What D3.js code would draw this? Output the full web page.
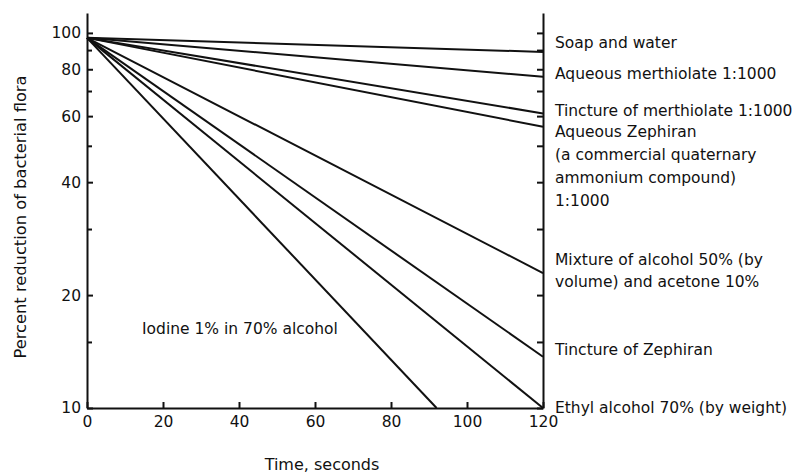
<!DOCTYPE html>
<html>
<head>
<meta charset="utf-8">
<script src="https://cdn.jsdelivr.net/npm/d3@7"></script>
<style>
  body { margin: 0; background: #fff; }
  svg { font-family: "DejaVu Sans", sans-serif; }
  .axis path, .axis line { stroke: #111; stroke-width: 2; }
  .axis text { font-size: 15.5px; fill: #111; font-family: "DejaVu Sans", sans-serif; }
</style>
</head>
<body>
<div id="chart"></div>
<script>
// data
const seriesNames = [
    "Soap and water",
    "Aqueous merthiolate 1:1000",
    "Tincture of merthiolate 1:1000",
    "Aqueous Zephiran",
    "Mixture of alcohol 50% (by volume) and acetone 10%",
    "Tincture of Zephiran",
    "Ethyl alcohol 70% (by weight)",
    "Iodine 1% in 70% alcohol"
];
const startTime = 0;
const startValue = 97;
const endTime = [120, 120, 120, 120, 120, 120, 120, 92];
const endValue = [89, 76.4, 61, 56.2, 22.9, 13.7, 10, 10];

// label text, split into lines as printed
const labelLines = [
    ["Soap and water"],
    ["Aqueous merthiolate  1:1000"],
    ["Tincture of merthiolate  1:1000"],
    ["Aqueous Zephiran", "(a commercial quaternary", "ammonium compound)", "1:1000"],
    ["Mixture of alcohol 50% (by", "volume) and acetone 10%"],
    ["Tincture of Zephiran"],
    ["Ethyl alcohol 70% (by weight)"],
    ["Iodine 1% in 70% alcohol"]
];

const xTicks = [0, 20, 40, 60, 80, 100, 120];
const yTicks = [10, 20, 40, 60, 80, 100];
const yMinorTicks = [15, 30, 50, 70, 90];

const width = 803, height = 473;

const svg = d3.select("#chart").append("svg")
    .attr("width", width)
    .attr("height", height);

const x = d3.scaleLinear().domain([0, 120]).range([87, 543]);
const y = d3.scaleLog().domain([10, 113]).range([408, 13]);

// left axis
svg.append("g")
    .attr("class", "axis")
    .attr("transform", "translate(" + x(0) + ",0)")
    .call(d3.axisLeft(y).tickValues(yTicks).tickFormat(d3.format("d"))
        .tickSizeInner(-6).tickSizeOuter(0).tickPadding(6));

svg.append("g")
    .attr("class", "axis")
    .attr("transform", "translate(" + x(0) + ",0)")
    .call(d3.axisLeft(y).tickValues(yMinorTicks).tickFormat("")
        .tickSizeInner(-5).tickSizeOuter(0))
    .select(".domain").remove();

// right axis (no labels)
svg.append("g")
    .attr("class", "axis")
    .attr("transform", "translate(" + x(120) + ",0)")
    .call(d3.axisLeft(y).tickValues(yTicks.concat(yMinorTicks)).tickFormat("")
        .tickSizeInner(6).tickSizeOuter(0));

// bottom axis
svg.append("g")
    .attr("class", "axis")
    .attr("transform", "translate(0," + y(10) + ")")
    .call(d3.axisBottom(x).tickValues(xTicks).tickFormat(d3.format("d"))
        .tickSizeInner(-6).tickSizeOuter(0).tickPadding(8));

svg.selectAll(".axis .domain").attr("fill", "none");

// lines
const rows = seriesNames.map((name, i) => ({
    name: name,
    pts: [[startTime, startValue], [endTime[i], endValue[i]]],
    lines: labelLines[i]
}));

const line = d3.line().x(d => x(d[0])).y(d => y(d[1]));

svg.append("g").selectAll("path")
    .data(rows)
    .enter().append("path")
    .attr("d", d => line(d.pts))
    .attr("fill", "none")
    .attr("stroke", "#111")
    .attr("stroke-width", 2);

// right labels, nudged from the line end like the print
const labelShift = [-9, -3, -3, 5, -13, -7, 0];
const lineGap = 23;

const labels = svg.append("g").attr("font-size", 15.5).attr("fill", "#111");

rows.slice(0, 7).forEach((r, i) => {
    const y0 = y(r.pts[1][1]) + labelShift[i];
    const gap = i == 4 ? 22 : lineGap;
    r.lines.forEach((t, j) => {
        labels.append("text")
            .attr("x", x(120) + 12)
            .attr("y", y0 + j * gap)
            .attr("dy", "0.35em")
            .text(t);
    });
});

// iodine label sits inside the plot
labels.append("text")
    .attr("x", x(0) + 55)
    .attr("y", y(16.3))
    .attr("dy", "0.35em")
    .text(rows[7].lines[0]);

// axis titles
svg.append("text")
    .attr("x", (x(0) + x(120)) / 2 + 7)
    .attr("y", 464)
    .attr("dy", "0.35em")
    .attr("text-anchor", "middle")
    .attr("font-size", 16)
    .attr("fill", "#111")
    .text("Time, seconds");

svg.append("text")
    .attr("transform", "translate(20," + 217 + ") rotate(-90)")
    .attr("dy", "0.35em")
    .attr("text-anchor", "middle")
    .attr("font-size", 16.3)
    .attr("fill", "#111")
    .text("Percent reduction of bacterial flora");
</script>
</body>
</html>
